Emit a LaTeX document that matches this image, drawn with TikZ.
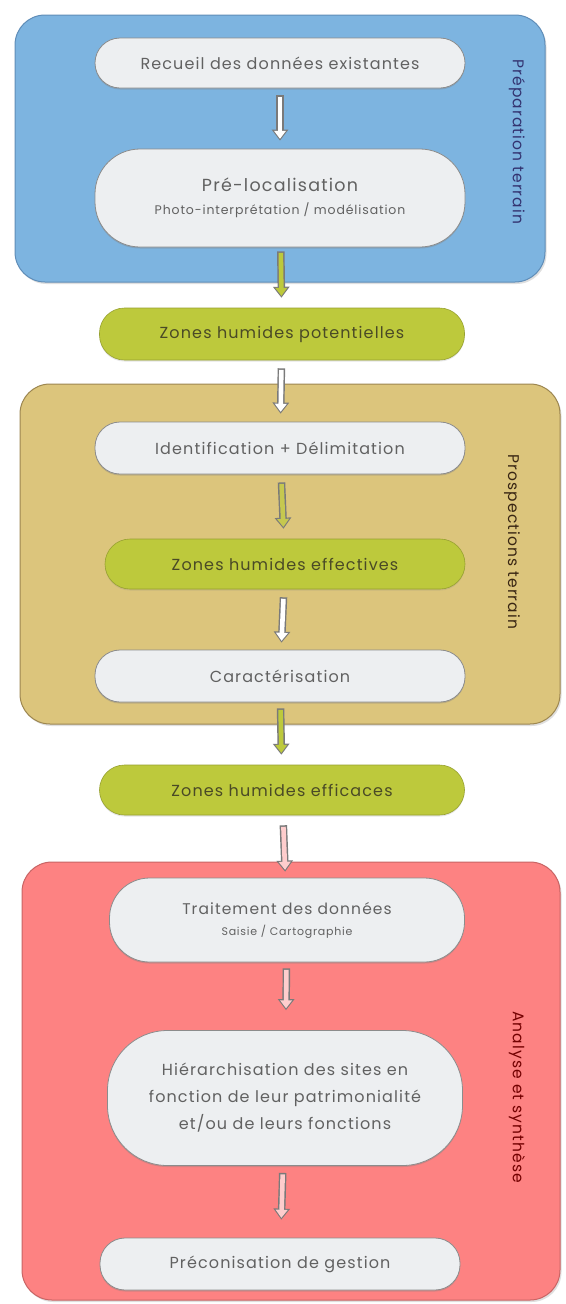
\documentclass[tikz,border=0pt]{standalone}
\usepackage{fontspec}
\setmainfont{Poppins}[LetterSpace=7]
\usetikzlibrary{arrows.meta,shadows}
\definecolor{bluebg}{HTML}{7DB4E0}
\definecolor{blueln}{HTML}{5F8DB8}
\definecolor{tanbg}{HTML}{DCC57C}
\definecolor{tanln}{HTML}{9C8650}
\definecolor{redbg}{HTML}{FD8282}
\definecolor{redln}{HTML}{C86464}
\definecolor{stepbg}{HTML}{EDEFF1}
\definecolor{zonebg}{HTML}{BDC93C}
\definecolor{txt}{HTML}{616161}
\definecolor{ztxt}{HTML}{4A4A26}
\definecolor{arrln}{HTML}{7A7A7A}
\tikzset{
  phase/.style={draw=#1, line width=1pt, rounded corners=30pt, inner sep=0pt,
    drop shadow={opacity=0.25, shadow xshift=1.5pt, shadow yshift=-2pt}},
  stepbox/.style={fill=stepbg, draw=black!45, line width=0.8pt, rounded corners=25pt,
    inner sep=2pt, align=center, text=txt, font=\fontsize{16}{20}\selectfont,
    drop shadow={opacity=0.35, shadow xshift=0pt, shadow yshift=-1.5pt}},
  zonebox/.style={fill=zonebg, draw=zonebg!80!black, line width=0.6pt, rounded corners=25pt,
    inner sep=2pt, align=center, text=ztxt, font=\fontsize{16}{20}\selectfont,
    drop shadow={opacity=0.2, shadow xshift=0pt, shadow yshift=-1.5pt}},
  sidelabel/.style={rotate=-90, font=\fontsize{15.5}{17}\selectfont, inner sep=0pt},
  arrout/.style={line width=7.5pt, draw=arrln, -{Triangle[length=11pt,width=16pt]}},
  arrin/.style={line width=4.6pt, draw=#1, -{Triangle[length=8pt,width=11.5pt]}},
}
\begin{document}
\begin{tikzpicture}[x=1pt,y=-1pt]
\useasboundingbox (0,0) rectangle (565,1304);
\fill[white] (0,0) rectangle (565,1304);
% phases
\node[phase=blueln, fill=bluebg, minimum width=530pt, minimum height=267pt] (pA) at (280,148.5) {};
\node[phase=tanln, fill=tanbg, minimum width=540pt, minimum height=340pt] (pB) at (290,554) {};
\node[phase=redln, fill=redbg, minimum width=538pt, minimum height=438pt] (pC) at (291,1081) {};
\node[sidelabel, text=blue!30!black!80] (lA) at (517,142) {Préparation terrain};
\node[sidelabel, text=black!70!brown] (lB) at (512,542) {Prospections terrain};
\node[sidelabel, text=red!45!black] (lC) at (517,1097) {Analyse et synthèse};
% steps
\node[stepbox, minimum width=370pt, minimum height=50pt] (n1) at (280,63) {Recueil des données existantes};
\node[stepbox, rounded corners=45pt, minimum width=370pt, minimum height=98pt] (n2) at (280,198) {{\fontsize{17.5}{21}\selectfont Pré-localisation}\\[3pt]{\fontsize{12.5}{15}\selectfont Photo-interprétation / modélisation}};
\node[zonebox, minimum width=365pt, minimum height=52pt] (z1) at (282,334) {Zones humides potentielles};
\node[stepbox, minimum width=370pt, minimum height=52pt] (n3) at (280,448) {Identification + Délimitation};
\node[zonebox, minimum width=360pt, minimum height=50pt] (z2) at (285,564) {Zones humides effectives};
\node[stepbox, minimum width=370pt, minimum height=52pt] (n4) at (280,676) {Caractérisation};
\node[zonebox, minimum width=365pt, minimum height=50pt] (z3) at (282,790) {Zones humides efficaces};
\node[stepbox, rounded corners=40pt, minimum width=355pt, minimum height=84pt] (n5) at (287,920) {{\fontsize{15.5}{18}\selectfont Traitement des données}\\[1pt]{\fontsize{11}{13}\selectfont Saisie / Cartographie}};
\node[stepbox, rounded corners=60pt, minimum width=355pt, minimum height=135pt, font=\fontsize{16}{27}\selectfont] (n6) at (285,1098) {Hiérarchisation des sites en\\fonction de leur patrimonialité\\et/ou de leurs fonctions};
\node[stepbox, minimum width=360pt, minimum height=52pt] (n7) at (280,1264) {Préconisation de gestion};
% arrows
\foreach \a/\b/\c/\s/\e in {n1/n2/white/7/8, n2/z1/zonebg/4/10, z1/n3/white/8/8, n3/z2/zonebg!70!tanbg/8/10, z2/n4/white/8/7, n4/z3/zonebg/6/10, z3/n5/redbg!40!white/10/6, n5/n6/redbg!40!white/6/20, n6/n7/redbg!40!white/7/18}{
  \draw[arrout, shorten <=\s pt, shorten >=\e pt] (\a) -- (\b);
  \draw[arrin=\c, shorten <=\s pt+1.5pt, shorten >=\e pt+1.8pt] (\a) -- (\b);
}
\end{tikzpicture}
\end{document}
